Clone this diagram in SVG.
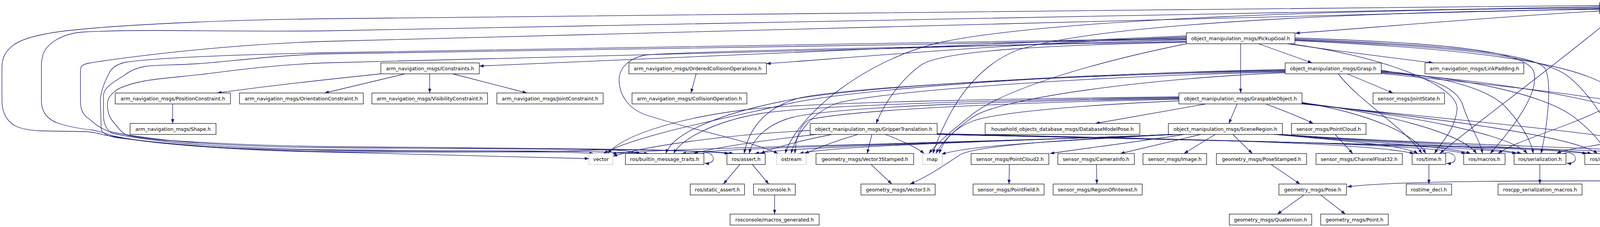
<svg xmlns="http://www.w3.org/2000/svg" width="4931" height="581" viewBox="0 0 4931 581">
<style>
.n rect{fill:#fff;stroke:#000;stroke-width:1.2}
.g rect{stroke:#bfbfbf}
.r rect{fill:#bfbfbf}
text{font-family:"DejaVu Sans","Liberation Sans",sans-serif;font-size:12.6px;text-anchor:middle;fill:#000}
.e path{fill:none;stroke:#191970;stroke-width:1.3;marker-end:url(#a)}
</style>
<defs>
<marker id="a" viewBox="0 0 11 8" refX="11" refY="4" markerWidth="11" markerHeight="8" markerUnits="userSpaceOnUse" orient="auto"><path d="M0,0L11,4L0,8z" fill="#191970"/></marker>
</defs>
<rect width="4931" height="581" fill="#fff"/>
<g id="connectors" class="e">
<path d="M4095,28 C3800,45 3500,72 3316,85"/>
<path d="M4239,31 L4583,87"/>
<path d="M4239,25 L4752,84"/>
<path d="M4239,34 C4380,70 4546,130 4546,180 L4546,259 C4546,320 4460,368 4372,398"/>
<path d="M4239,35 C4320,75 4359,150 4359,215 C4359,290 4320,350 4211,393"/>
<path d="M4190,35 C4240,70 4293,110 4293,170 L4293,256 C4293,300 4230,340 4150,360 C4080,375 4010,380 3985,393"/>
<path d="M4174,35 C4190,70 4196,110 4193,150 C4188,200 4150,245 4100,281 C4000,330 3880,360 3835,393"/>
<path d="M4145,35 C4125,52 4110,60 4095,72 C3950,190 3760,330 3686,393"/>
<path d="M4095,24 C3500,30 2800,60 2600,130 C2480,180 2420,300 2388,393"/>
<path d="M4095,20 C3500,25 2700,45 2400,110 C2200,160 2040,300 2010,393"/>
<path d="M4095,14 C3000,25 1500,40 830,48 C500,52 260,68 159,80 C100,88 55,100 35,115 C12,132 5,150 5,174 L5,259 C5,290 20,315 45,325 C65,332 90,335 106,335 L222,337 C240,338 255,342 265,345 C400,370 600,385 830,389 C1100,394 1350,400 1508,406"/>
<path d="M4095,17 C3000,35 1600,70 830,79 C650,81 480,78 397,78 C320,78 250,80 212,82 C160,86 120,110 110,140 C106,155 106,160 106,167 L106,259 C106,285 120,305 148,315 C180,326 210,330 238,333 C260,337 275,343 291,348 C400,372 600,382 830,385 C1100,388 1400,390 1500,385 C1560,382 1610,385 1640,393"/>
<path d="M4095,22 C3000,50 1600,85 830,106 C550,115 300,150 225,162 C210,166 206,170 206,180 L206,259 C206,280 212,295 228,304 C245,320 262,331 281,337 C420,365 600,375 830,378 C1300,382 1750,380 1866,393"/>
<path d="M3176,112 L3176,238"/>
<path d="M3222,112 L3359,161"/>
<path d="M3296,112 C3420,130 3580,150 3669,161"/>
<path d="M3037,92 C2500,110 1600,158 1227,169"/>
<path d="M3037,95 C2600,110 2150,150 1962,163"/>
<path d="M3037,108 C2700,115 2420,128 2360,165 C2310,200 2265,260 2243,316"/>
<path d="M3037,112 C2800,160 2560,230 2480,300 C2430,340 2395,370 2378,393"/>
<path d="M3037,106 C2500,118 1850,128 1660,140 C1610,146 1585,175 1585,204 C1585,240 1605,275 1650,293 C1760,330 1920,360 1992,393"/>
<path d="M3037,98 C2300,110 1500,125 830,135 C600,140 400,148 323,159 C295,165 285,175 278,190 C265,215 257,240 257,259 L259,330 C260,340 275,348 296,352 C450,372 650,385 830,388 C1100,392 1400,385 1520,393"/>
<path d="M3037,100 C2300,115 1500,130 830,138 C700,142 580,158 508,163 C440,167 400,166 371,170 C345,175 330,183 318,193 C290,210 265,225 265,245 L265,296 C265,315 272,332 286,341 C420,370 650,380 830,383 C1150,387 1500,384 1660,393"/>
<path d="M3037,102 C2300,125 1500,145 830,161 C700,166 600,180 529,189 C470,196 410,200 371,207 C335,214 310,222 296,232 C280,245 275,255 275,267 C275,290 282,305 296,319 C305,330 312,340 323,345 C350,352 390,356 424,359 C600,370 700,373 830,375 C1300,380 1780,380 1878,393"/>
<path d="M3300,112 C3520,140 3735,215 3730,280 C3726,330 3690,365 3672,393"/>
<path d="M3315,97 C3700,110 3900,130 3925,180 C3945,230 3880,320 3815,393"/>
<path d="M3315,100 C3720,115 3930,140 3955,175 C3975,210 3960,330 3945,393"/>
<path d="M3315,102 C3750,120 3960,145 4020,200 C4080,250 4130,340 4150,393"/>
<path d="M3315,104 C3780,125 4000,160 4100,211 C4200,260 4300,340 4340,393"/>
<path d="M3449,189 L3566,238"/>
<path d="M3536,188 C3800,215 4000,235 4150,262 C4300,295 4394,350 4394,400 C4394,450 4300,462 4100,463 C3800,463 3560,465 3449,478"/>
<path d="M3426,189 C3480,260 3600,330 3640,393"/>
<path d="M3536,180 C3650,195 3730,220 3745,270 C3760,320 3790,360 3795,393"/>
<path d="M3536,182 C3700,195 3820,230 3860,280 C3895,320 3920,360 3925,393"/>
<path d="M3536,184 C3750,200 3950,240 4030,300 C4080,340 4105,370 4110,393"/>
<path d="M3536,186 C3800,205 4100,250 4200,300 C4270,335 4315,370 4330,393"/>
<path d="M3290,186 C2950,200 2560,250 2490,300 C2440,335 2410,365 2396,393"/>
<path d="M3290,184 C2800,195 2300,230 2150,262 C2080,285 2040,340 2025,393"/>
<path d="M3290,182 C2800,190 2200,220 2050,250 C1950,275 1915,340 1905,393"/>
<path d="M3290,180 C2750,188 2150,225 2000,260 C1850,290 1720,340 1705,393"/>
<path d="M3290,178 C2700,190 2150,230 2000,270 C1820,310 1620,350 1545,393"/>
<path d="M3087,266 L2804,316"/>
<path d="M3167,266 L3146,316"/>
<path d="M3240,266 C3290,285 3330,300 3362,316"/>
<path d="M3333,262 C3500,290 3620,340 3650,393"/>
<path d="M3333,263 C3550,290 3740,340 3780,393"/>
<path d="M3333,264 C3600,295 3860,340 3910,393"/>
<path d="M3333,265 C3650,300 4020,345 4090,393"/>
<path d="M3333,266 C3700,305 4250,350 4322,393"/>
<path d="M3018,258 C2800,268 2560,285 2490,310 C2440,330 2415,360 2404,393"/>
<path d="M3018,254 C2600,262 2200,280 2075,305 C2045,318 2037,360 2035,393"/>
<path d="M3018,252 C2600,258 2150,272 2030,300 C1960,318 1925,360 1918,393"/>
<path d="M3018,250 C2600,255 2100,268 1950,290 C1820,312 1740,360 1725,393"/>
<path d="M3018,248 C2600,252 2050,262 1900,282 C1720,305 1590,350 1556,393"/>
<path d="M3032,344 C2900,365 2750,383 2688,393"/>
<path d="M3074,344 C3000,362 2920,380 2868,393"/>
<path d="M3111,344 L3031,393"/>
<path d="M3156,344 L3206,393"/>
<path d="M2995,344 C2700,358 2500,375 2460,395 C2420,420 2380,450 2330,471"/>
<path d="M3262,344 C3430,360 3590,370 3630,393"/>
<path d="M3268,344 C3450,362 3700,372 3765,393"/>
<path d="M3273,344 C3500,364 3820,375 3895,393"/>
<path d="M3278,344 C3550,366 3980,378 4075,393"/>
<path d="M3283,344 C3600,368 4200,380 4316,394"/>
<path d="M3000,344 C2700,362 2480,372 2410,395"/>
<path d="M3005,344 C2500,364 2150,372 2046,393"/>
<path d="M3010,344 C2450,366 2050,374 1932,393"/>
<path d="M3015,344 C2400,368 1900,376 1745,393"/>
<path d="M3020,344 C2350,370 1700,378 1566,394"/>
<path d="M2232,344 L2220,393"/>
<path d="M2266,344 C2310,360 2350,380 2366,393"/>
<path d="M2196,344 C2140,360 2090,380 2060,393"/>
<path d="M2130,344 C2050,360 1980,378 1947,393"/>
<path d="M2090,344 C1950,360 1830,378 1775,393"/>
<path d="M2074,334 C1850,345 1650,375 1569,400"/>
<path d="M2399,342 C3000,356 3500,364 3620,393"/>
<path d="M2399,343 C3100,358 3650,368 3752,393"/>
<path d="M2399,344 C3150,360 3780,372 3882,393"/>
<path d="M2399,344 C3200,362 3950,376 4062,393"/>
<path d="M2399,344 C3300,364 4150,380 4314,400"/>
<path d="M975,189 C820,205 650,225 556,238"/>
<path d="M1037,189 L831,238"/>
<path d="M1100,189 L1100,238"/>
<path d="M1159,189 L1349,238"/>
<path d="M442,266 L442,316"/>
<path d="M1782,189 L1769,238"/>
<path d="M1894,421 L1852,471"/>
<path d="M1926,421 L1968,471"/>
<path d="M1983,499 L1983,548"/>
<path d="M2230,421 L2283,471"/>
<path d="M2584,421 L2583,471"/>
<path d="M2807,421 L2808,471"/>
<path d="M3254,421 L3328,471"/>
<path d="M3338,499 L3270,548"/>
<path d="M3381,499 L3444,548"/>
<path d="M3418,344 L3463,393"/>
<path d="M3658,421 L3658,471"/>
<path d="M3942,421 L3942,471"/>
<path d="M1795,393 C1815,386 1828,398 1826,408 C1824,416 1815,419 1804,418"/>
<path d="M3694,393 C3714,386 3727,398 3725,408 C3723,416 3714,419 3703,418"/>
<path d="M4002,393 C4022,386 4035,398 4033,408 C4031,416 4022,419 4011,418"/>
</g>
<g id="n_pag" class="n r"><rect x="4095" y="7" width="144" height="28"/><text x="4167" y="25.5">PickupActionGoal.h</text></g>
<g id="n_pg" class="n"><rect x="3037" y="84" width="278" height="28"/><text x="3176" y="102.5">object_manipulation_msgs/PickupGoal.h</text></g>
<g id="n_header" class="n g"><rect x="4583" y="84" width="145" height="28"/><text x="4655.5" y="102.5">std_msgs/Header.h</text></g>
<g id="n_goalid" class="n"><rect x="4752" y="84" width="175" height="28"/><text x="4839.5" y="102.5">actionlib_msgs/GoalID.h</text></g>
<g id="n_constraints" class="n"><rect x="975" y="161" width="252" height="28"/><text x="1101" y="179.5">arm_navigation_msgs/Constraints.h</text></g>
<g id="n_oco" class="n"><rect x="1610" y="161" width="352" height="28"/><text x="1786" y="179.5">arm_navigation_msgs/OrderedCollisionOperations.h</text></g>
<g id="n_grasp" class="n"><rect x="3290" y="161" width="246" height="28"/><text x="3413" y="179.5">object_manipulation_msgs/Grasp.h</text></g>
<g id="n_linkpad" class="n"><rect x="3648" y="161" width="253" height="28"/><text x="3774.5" y="179.5">arm_navigation_msgs/LinkPadding.h</text></g>
<g id="n_poscon" class="n"><rect x="295" y="238" width="295" height="28"/><text x="442.5" y="256.5">arm_navigation_msgs/PositionConstraint.h</text></g>
<g id="n_oricon" class="n"><rect x="613" y="238" width="317" height="28"/><text x="771.5" y="256.5">arm_navigation_msgs/OrientationConstraint.h</text></g>
<g id="n_viscon" class="n"><rect x="952" y="238" width="296" height="28"/><text x="1100" y="256.5">arm_navigation_msgs/VisibilityConstraint.h</text></g>
<g id="n_jointcon" class="n"><rect x="1272" y="238" width="272" height="28"/><text x="1408" y="256.5">arm_navigation_msgs/JointConstraint.h</text></g>
<g id="n_collop" class="n"><rect x="1618" y="238" width="294" height="28"/><text x="1765" y="256.5">arm_navigation_msgs/CollisionOperation.h</text></g>
<g id="n_go" class="n"><rect x="3018" y="238" width="315" height="28"/><text x="3175.5" y="256.5">object_manipulation_msgs/GraspableObject.h</text></g>
<g id="n_jointstate" class="n"><rect x="3515" y="238" width="183" height="28"/><text x="3606.5" y="256.5">sensor_msgs/JointState.h</text></g>
<g id="n_shape" class="n"><rect x="333" y="316" width="220" height="28"/><text x="443" y="334.5">arm_navigation_msgs/Shape.h</text></g>
<g id="n_gt" class="n"><rect x="2074" y="316" width="325" height="28"/><text x="2236.5" y="334.5">object_manipulation_msgs/GripperTranslation.h</text></g>
<g id="n_dmp" class="n"><rect x="2522" y="316" width="396" height="28"/><text x="2720" y="334.5">household_objects_database_msgs/DatabaseModelPose.h</text></g>
<g id="n_sr" class="n"><rect x="2991" y="316" width="292" height="28"/><text x="3137" y="334.5">object_manipulation_msgs/SceneRegion.h</text></g>
<g id="n_pc" class="n"><rect x="3306" y="316" width="191" height="28"/><text x="3401.5" y="334.5">sensor_msgs/PointCloud.h</text></g>
<g id="n_vector" class="n g"><rect x="1508" y="393" width="61" height="28"/><text x="1538.5" y="411.5">vector</text></g>
<g id="n_builtin" class="n"><rect x="1601" y="393" width="201" height="28"/><text x="1701.5" y="411.5">ros/builtin_message_traits.h</text></g>
<g id="n_assert" class="n"><rect x="1861" y="393" width="98" height="28"/><text x="1910" y="411.5">ros/assert.h</text></g>
<g id="n_ostream" class="n g"><rect x="1988" y="393" width="76" height="28"/><text x="2026" y="411.5">ostream</text></g>
<g id="n_v3s" class="n"><rect x="2089" y="393" width="250" height="28"/><text x="2214" y="411.5">geometry_msgs/Vector3Stamped.h</text></g>
<g id="n_map" class="n g"><rect x="2361" y="393" width="51" height="28"/><text x="2386.5" y="411.5">map</text></g>
<g id="n_pc2" class="n"><rect x="2486" y="393" width="199" height="28"/><text x="2585.5" y="411.5">sensor_msgs/PointCloud2.h</text></g>
<g id="n_caminfo" class="n"><rect x="2708" y="393" width="196" height="28"/><text x="2806" y="411.5">sensor_msgs/CameraInfo.h</text></g>
<g id="n_image" class="n"><rect x="2926" y="393" width="163" height="28"/><text x="3007.5" y="411.5">sensor_msgs/Image.h</text></g>
<g id="n_posestamped" class="n"><rect x="3114" y="393" width="231" height="28"/><text x="3229.5" y="411.5">geometry_msgs/PoseStamped.h</text></g>
<g id="n_cf32" class="n"><rect x="3369" y="393" width="221" height="28"/><text x="3479.5" y="411.5">sensor_msgs/ChannelFloat32.h</text></g>
<g id="n_time" class="n"><rect x="3615" y="393" width="86" height="28"/><text x="3658" y="411.5">ros/time.h</text></g>
<g id="n_macros" class="n"><rect x="3747" y="393" width="106" height="28"/><text x="3800" y="411.5">ros/macros.h</text></g>
<g id="n_ser" class="n"><rect x="3876" y="393" width="133" height="28"/><text x="3942.5" y="411.5">ros/serialization.h</text></g>
<g id="n_msgops" class="n"><rect x="4057" y="393" width="192" height="28"/><text x="4153" y="411.5">ros/message_operations.h</text></g>
<g id="n_string" class="n g"><rect x="4314" y="393" width="58" height="28"/><text x="4343" y="411.5">string</text></g>
<g id="n_sassert" class="n"><rect x="1767" y="471" width="139" height="28"/><text x="1836.5" y="489.5">ros/static_assert.h</text></g>
<g id="n_console" class="n"><rect x="1929" y="471" width="107" height="28"/><text x="1982.5" y="489.5">ros/console.h</text></g>
<g id="n_v3" class="n"><rect x="2204" y="471" width="190" height="28"/><text x="2299" y="489.5">geometry_msgs/Vector3.h</text></g>
<g id="n_pf" class="n"><rect x="2491" y="471" width="182" height="28"/><text x="2582" y="489.5">sensor_msgs/PointField.h</text></g>
<g id="n_roi" class="n"><rect x="2696" y="471" width="228" height="28"/><text x="2810" y="489.5">sensor_msgs/RegionOfInterest.h</text></g>
<g id="n_pose" class="n"><rect x="3274" y="471" width="173" height="28"/><text x="3360.5" y="489.5">geometry_msgs/Pose.h</text></g>
<g id="n_rtdecl" class="n"><rect x="3600" y="471" width="116" height="28"/><text x="3658" y="489.5">rostime_decl.h</text></g>
<g id="n_rsm" class="n"><rect x="3835" y="471" width="215" height="28"/><text x="3942.5" y="489.5">roscpp_serialization_macros.h</text></g>
<g id="n_macgen" class="n"><rect x="1869" y="548" width="228" height="28"/><text x="1983" y="566.5">rosconsole/macros_generated.h</text></g>
<g id="n_quat" class="n"><rect x="3147" y="548" width="211" height="28"/><text x="3252.5" y="566.5">geometry_msgs/Quaternion.h</text></g>
<g id="n_point" class="n"><rect x="3381" y="548" width="173" height="28"/><text x="3467.5" y="566.5">geometry_msgs/Point.h</text></g>
</svg>
